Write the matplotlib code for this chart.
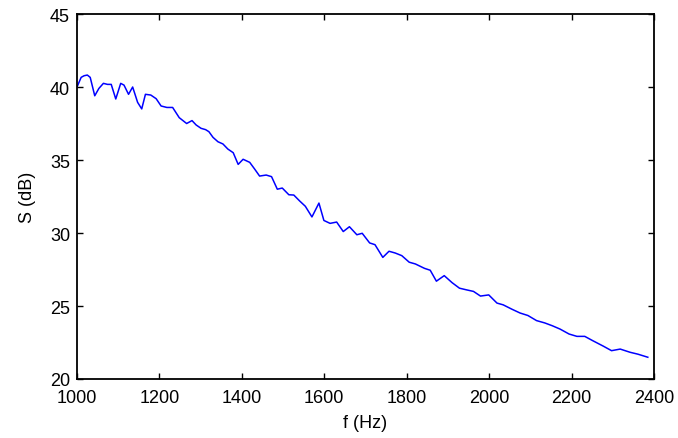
import matplotlib
matplotlib.use("Agg")
import matplotlib.pyplot as plt

plt.rcParams['font.family'] = ['Liberation Sans', 'DejaVu Sans']

# frequency (Hz) and level S (dB)
freq = [1000, 1010, 1017, 1025, 1032, 1043, 1053, 1064, 1074, 1083,
        1094, 1106, 1114, 1125, 1135, 1147, 1157, 1166, 1179, 1192,
        1204, 1218, 1232, 1248, 1266, 1279, 1289, 1301, 1312, 1320,
        1330, 1342, 1354, 1366, 1379, 1391, 1403, 1419, 1431, 1443,
        1459, 1472, 1486, 1498, 1514, 1526, 1540, 1554, 1570, 1587,
        1599, 1614, 1630, 1646, 1661, 1679, 1692, 1710, 1723, 1742,
        1757, 1772, 1788, 1806, 1821, 1843, 1857, 1872, 1891, 1910,
        1928, 1946, 1962, 1979, 1999, 2019, 2034, 2056, 2075, 2094,
        2115, 2135, 2153, 2172, 2194, 2213, 2232, 2251, 2277, 2297,
        2318, 2342, 2361, 2385]
level = [40.0, 40.66, 40.77, 40.82, 40.66, 39.4, 39.9, 40.25, 40.18, 40.18,
         39.18, 40.25, 40.13, 39.5, 40.0, 38.95, 38.5, 39.5, 39.45, 39.2,
         38.7, 38.6, 38.6, 37.9, 37.5, 37.7, 37.4, 37.17, 37.08, 36.94,
         36.55, 36.25, 36.1, 35.75, 35.5, 34.7, 35.05, 34.84, 34.38, 33.9,
         33.97, 33.86, 33.0, 33.08, 32.62, 32.6, 32.2, 31.83, 31.1, 32.05,
         30.86, 30.66, 30.75, 30.1, 30.43, 29.88, 29.98, 29.32, 29.2, 28.33,
         28.75, 28.63, 28.45, 28.0, 27.88, 27.58, 27.45, 26.7, 27.08, 26.6,
         26.22, 26.1, 26.0, 25.68, 25.76, 25.2, 25.08, 24.77, 24.52, 24.35,
         24.0, 23.84, 23.65, 23.42, 23.08, 22.92, 22.92, 22.63, 22.25, 21.94,
         22.05, 21.83, 21.7, 21.49]

xticks = [1000, 1200, 1400, 1600, 1800, 2000, 2200, 2400]
yticks = [20, 25, 30, 35, 40, 45]

fig = plt.figure(figsize=(6.78, 4.39), dpi=100)
ax = fig.add_axes([0.1136, 0.1344, 0.8510, 0.8314])

ax.plot(freq, level, color='#0000ff', linewidth=1.1)

ax.set_xlim(1000, 2400)
ax.set_ylim(20, 45)
ax.set_xticks(xticks)
ax.set_yticks(yticks)
ax.tick_params(direction='in', top=True, right=True, length=4, width=1,
               labelsize=13)
ax.tick_params(axis='x', pad=7)
ax.tick_params(axis='y', pad=5)
for s in ax.spines.values():
    s.set_linewidth(1.3)

ax.set_xlabel('f (Hz)', fontsize=13, labelpad=6)
ax.set_ylabel('S (dB)', fontsize=13, labelpad=10)

fig.savefig('out.png', dpi=100)
